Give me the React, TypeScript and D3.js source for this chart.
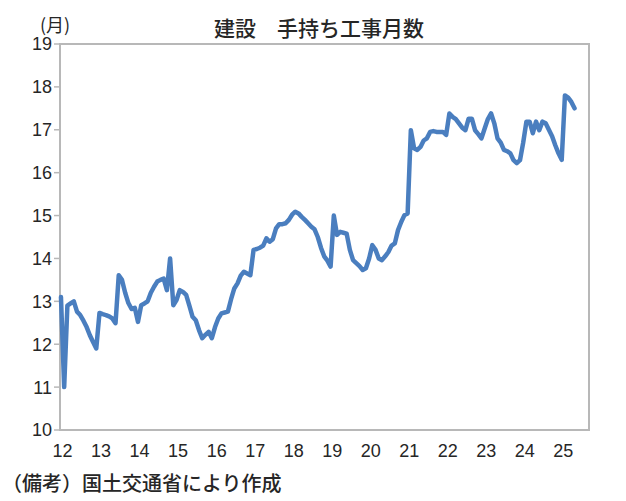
import React from "react";
import * as d3 from "d3";

const title = "建設　手持ち工事月数";
const unitLabel = "(月)";
const note = "（備考）国土交通省により作成";
const yearLabels = ["12", "13", "14", "15", "16", "17", "18", "19", "20", "21", "22", "23", "24", "25"];
const yTicks = [10, 11, 12, 13, 14, 15, 16, 17, 18, 19];

// monthly values from Jan 2012
const v2012 = [13.1, 11.0, 12.9, 12.95, 13.0, 12.76, 12.68, 12.55, 12.4, 12.21, 12.05, 11.9];
const v2013 = [12.73, 12.7, 12.68, 12.65, 12.6, 12.49, 13.61, 13.5, 13.2, 12.96, 12.82, 12.85];
const v2014 = [12.52, 12.91, 12.95, 13.0, 13.2, 13.34, 13.46, 13.5, 13.53, 13.26, 14.0, 12.91];
const v2015 = [13.03, 13.26, 13.22, 13.15, 12.9, 12.64, 12.56, 12.33, 12.14, 12.22, 12.29, 12.14];
const v2016 = [12.4, 12.6, 12.72, 12.74, 12.76, 13.05, 13.3, 13.42, 13.6, 13.69, 13.65, 13.61];
const v2017 = [14.2, 14.22, 14.25, 14.3, 14.47, 14.39, 14.45, 14.7, 14.8, 14.8, 14.82, 14.9];
const v2018 = [15.02, 15.09, 15.05, 14.97, 14.9, 14.82, 14.74, 14.68, 14.5, 14.25, 14.05, 13.95];
const v2019 = [13.81, 15.0, 14.55, 14.62, 14.6, 14.58, 14.2, 13.96, 13.89, 13.82, 13.73, 13.77];
const v2020 = [14.0, 14.31, 14.2, 14.0, 13.96, 14.05, 14.15, 14.3, 14.35, 14.66, 14.85, 15.01];
const v2021 = [15.05, 16.99, 16.57, 16.53, 16.6, 16.75, 16.8, 16.95, 16.97, 16.95, 16.95, 16.95];
const v2022 = [16.88, 17.38, 17.3, 17.25, 17.15, 17.05, 16.99, 17.26, 17.26, 16.99, 16.9, 16.8];
const v2023 = [17.03, 17.25, 17.38, 17.15, 16.8, 16.7, 16.53, 16.5, 16.45, 16.29, 16.22, 16.29];
const v2024 = [16.7, 17.19, 17.19, 16.92, 17.19, 16.99, 17.19, 17.15, 17.0, 16.85, 16.64, 16.45];
const v2025 = [16.3, 17.8, 17.75, 17.65, 17.5];

const values = [
  ...v2012, ...v2013, ...v2014, ...v2015, ...v2016, ...v2017, ...v2018,
  ...v2019, ...v2020, ...v2021, ...v2022, ...v2023, ...v2024, ...v2025,
];

export default function App() {
  const W = 626;
  const H = 501;
  const left = 60;
  const right = 589;
  const top = 44;
  const bottom = 430;

  const x = d3.scaleLinear().domain([-0.3, 164.5]).range([left, right]);
  const y = d3.scaleLinear().domain([10, 19]).range([bottom, top]);

  const line = d3
    .line<number>()
    .x((_, i) => x(i))
    .y((d) => y(d));

  const axisColor = "#b8b8b8";
  const textColor = "#262626";
  const font = "'Liberation Sans', Arial, sans-serif";
  const cjk = "'Noto Sans CJK JP', sans-serif";

  return (
    <svg
      width={W}
      height={H}
      style={{ position: "absolute", left: 0, top: 0, background: "#fff" }}
    >
      <rect x={0} y={0} width={W} height={H} fill="#fff" />
      <text x={319} y={36} textAnchor="middle" fontFamily={cjk} fontSize={21} fontWeight={500} fill={textColor}>
        {title}
      </text>
      <text x={40} y={32} fontFamily={cjk} fontSize={18} fill={textColor}>
        {unitLabel}
      </text>
      {/* plot frame */}
      <rect x={left} y={top} width={right - left} height={bottom - top} fill="none" stroke={axisColor} strokeWidth={2} />
      {yTicks.map((t) => (
        <g key={t}>
          <line x1={left - 6} x2={left} y1={y(t)} y2={y(t)} stroke={axisColor} strokeWidth={1.5} />
          <text
            x={left - 8}
            y={y(t)}
            dy="0.36em"
            textAnchor="end"
            fontFamily={font}
            fontSize={18}
            fill={textColor}
          >
            {t}
          </text>
        </g>
      ))}
      {yearLabels.map((lab, i) => (
        <text
          key={lab}
          x={x(i * 12 + 0.5)}
          y={457}
          textAnchor="middle"
          fontFamily={font}
          fontSize={18}
          fill={textColor}
        >
          {lab}
        </text>
      ))}
      <path
        d={line(values) || ""}
        fill="none"
        stroke="#4a7ebf"
        strokeWidth={4.5}
        strokeLinejoin="round"
        strokeLinecap="round"
      />
      <text x={2} y={491} fontFamily={cjk} fontSize={20} fontWeight={500} fill={textColor}>
        {note}
      </text>
    </svg>
  );
}
